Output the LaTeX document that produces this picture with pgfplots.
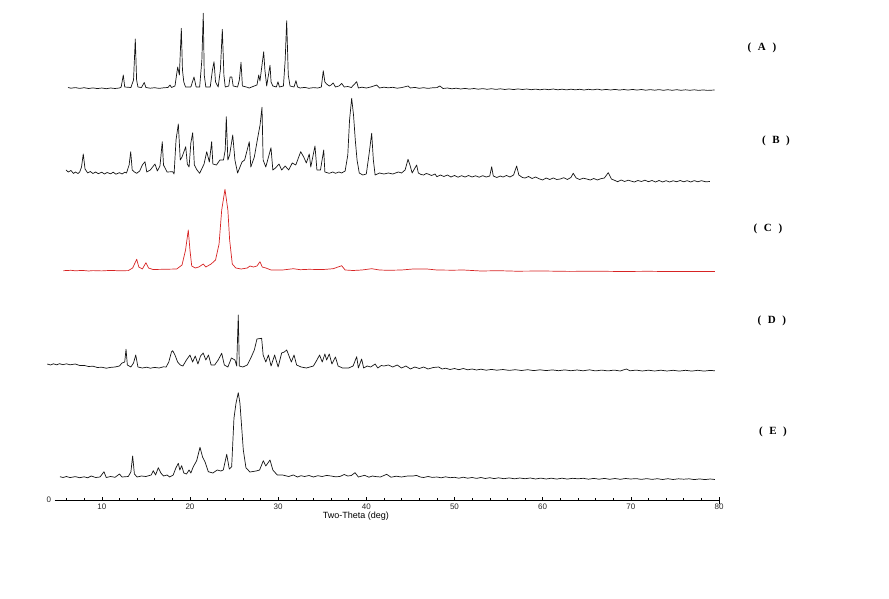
\documentclass[border=0pt]{standalone}
\usepackage{pgfplots}
\pgfplotsset{compat=1.18}
\usepackage{fontspec}
\setmainfont{Liberation Sans}
\newfontfamily\serifb{Liberation Serif}
\definecolor{xrdred}{RGB}{215,35,35}
\definecolor{xrdblack}{RGB}{20,20,20}
\begin{document}
\begin{tikzpicture}
\path[use as bounding box] (0,0) rectangle (889pt,598pt);
\begin{axis}[
  at={(57.7pt,98pt)}, anchor=south west,
  scale only axis, width=661.3pt, height=500pt,
  xmin=5, xmax=80, ymin=0, ymax=500,
  clip=false,
  axis x line*=bottom, axis y line*=left,
  y axis line style={draw=none},
  xtick={10,20,...,80},
  minor xtick={6,8,12,14,16,18,22,24,26,28,32,34,36,38,42,44,46,48,52,54,56,58,62,64,66,68,72,74,76,78},
  ytick=\empty,
  extra y ticks={0}, extra y tick labels={0},
  extra y tick style={major tick length=6pt, tick align=center},
  tick align=inside,
  major tick length=3pt, minor tick length=2pt,
  extra x ticks={80}, extra x tick labels={},
  extra x tick style={major tick length=7pt, tick align=center},
  tick style={black, line width=0.5pt},
  axis line style={line width=0.6pt},
  /pgf/number format/assume math mode=true,
  tick label style={font=\fontsize{8}{9}\selectfont, black!85},
  xticklabel style={yshift=-0.5pt},
  xlabel={Two-Theta (deg)},
  xlabel style={at={(axis description cs:0.451,0)}, anchor=north, yshift=-8.5pt, font=\fontsize{9}{10}\selectfont},
  every axis plot/.append style={line width=0.7pt, line join=round},
]
% (A)
\addplot[xrdblack] coordinates {
(6.17,412.5) (6.5,411.8) (7,412.4) (7.5,411.6) (8,412.3) (8.5,411.5) (9,412.1) (9.5,411.4) (10,412) (10.5,411.3) (11,412) (11.5,411.5) (12,412) (12.2,413) (12.44,425) (12.6,413) (13.3,412.5) (13.6,420) (13.8,461) (13.95,420) (14.1,413) (14.5,412.5) (14.82,417.5) (15.0,412.5) (15.5,411.8) (16,412.3) (16.5,411.6) (17,412.2) (17.5,412.5) (17.74,415) (17.9,412.5) (18.3,414) (18.61,433) (18.8,425) (19.02,471.7) (19.15,430) (19.3,418) (19.5,413) (20.1,413) (20.46,423) (20.7,413) (21.1,413) (21.35,440) (21.51,486.7) (21.62,425) (21.8,413) (22.3,413) (22.55,430) (22.73,438.3) (22.9,418) (23.2,413) (23.45,430) (23.67,470.7) (23.85,425) (24.0,413) (24.4,414) (24.55,423) (24.75,423) (24.9,414) (25.4,413) (25.6,420) (25.79,437.7) (25.95,414) (26.4,413) (26.73,412) (27.0,413) (27.6,415) (27.8,425) (27.94,419) (28.1,430) (28.36,448.3) (28.5,430) (28.7,414) (29.08,434.7) (29.2,418) (29.4,414) (29.8,413) (29.98,418.3) (30.15,413) (30.6,414) (30.8,440) (30.97,479.3) (31.15,425) (31.35,414) (31.8,413) (32.02,419.3) (32.2,413) (32.5,412) (33,412.6) (33.5,411.7) (34,412.4) (34.5,412) (34.9,413) (35.12,429.3) (35.3,418) (35.5,416) (35.8,414) (36,415) (36.25,417) (36.5,413) (36.9,414) (37.21,416.5) (37.5,413) (37.9,413.5) (38.3,412.5) (38.91,418.3) (39.1,412) (39.5,412.8) (40,412) (40.5,413) (41.18,415) (41.5,412) (42,412.8) (42.5,412.2) (43,412.7) (43.5,411.8) (44,412.4) (44.73,414) (45,412) (45.5,412.6) (46,411.7) (46.5,412.3) (47,411.6) (47.5,412.2) (48,412.4) (48.35,414) (48.7,411.5) (49.2,412) (49.7,411.2) (50.2,411.8) (50.7,411) (51.2,411.6) (51.7,410.9) (52.2,411.5) (52.7,410.8) (53.2,411.4) (53.7,410.7) (54.2,411.3) (54.7,410.6) (55.2,411.2) (55.7,410.5) (56.2,411.1) (56.7,410.4) (57.2,411.1) (57.7,410.5) (58.2,411) (58.7,410.3) (59.2,410.9) (59.7,410.2) (60.2,410.9) (60.7,410.3) (61.2,411) (61.7,410.2) (62.2,410.8) (62.7,410.1) (63.2,410.8) (63.7,410.2) (64.2,410.7) (64.7,410) (65.2,410.7) (65.7,410.1) (66.2,410.9) (66.7,410) (67.2,410.6) (67.7,410) (68.2,410.6) (68.7,409.9) (69.2,410.5) (69.7,409.9) (70.2,410.6) (70.7,409.9) (71.2,410.5) (71.7,409.8) (72.2,410.4) (72.7,409.8) (73.2,410.4) (73.7,409.7) (74.2,410.3) (74.7,409.7) (75.2,410.3) (75.7,409.7) (76.2,410.2) (76.7,409.7) (77.2,410.2) (77.7,409.6) (78.2,410.1) (78.7,409.6) (79.5,410)
};
% (B)
\addplot[xrdblack] coordinates {
(5.94,330) (6.2,328) (6.5,329.5) (6.8,326.5) (7.0,328) (7.3,326.5) (7.5,328) (7.7,333) (7.9,346) (8.1,331) (8.4,327) (8.7,328.5) (9,326.5) (9.3,328) (9.6,326.3) (10,327.8) (10.3,326) (10.6,327.5) (11,326.2) (11.3,327.8) (11.6,325.8) (12,327.3) (12.3,326) (12.6,327.8) (12.8,327) (13.1,335) (13.28,348.3) (13.45,330) (13.7,328) (13.96,326.7) (14.3,329) (14.6,335) (14.9,338.3) (15.1,328) (15.5,330) (16.03,336) (16.3,329) (16.6,334) (16.86,358.3) (17.0,335) (17.4,328) (18.04,328.3) (18.2,326) (18.42,360) (18.68,376) (18.9,340) (19.1,343) (19.52,353.3) (19.7,336) (19.9,333) (20.1,357) (20.31,367.3) (20.5,335) (20.8,330) (21.1,326.7) (21.6,336) (21.9,348.3) (22.2,338) (22.46,358.3) (22.6,336) (23.0,335) (23.4,340) (23.8,340) (24.0,350) (24.12,383.3) (24.3,340) (24.5,345) (24.85,365) (25.1,340) (25.4,327) (25.9,338) (26.2,340) (26.73,358.3) (26.9,333) (27.3,343) (27.7,363) (27.95,375) (28.17,392.7) (28.3,340) (28.6,333) (29.19,352.3) (29.4,330) (29.7,332) (30.1,336) (30.4,330) (30.8,334) (31.2,330) (31.6,337) (32.0,335) (32.56,348.3) (32.9,343) (33.2,337) (33.53,346) (33.7,333) (34.18,354) (34.4,330) (34.8,330) (35.17,350) (35.3,328) (35.8,326.7) (36.2,328) (36.5,326.7) (36.9,328) (37.2,327) (37.6,329) (37.9,345) (38.1,380) (38.34,401.7) (38.55,385) (38.75,360) (38.95,340) (39.2,327) (39.6,325) (40.0,326) (40.3,345) (40.61,366.7) (40.8,340) (41.0,325) (41.5,327) (42,326) (42.5,327) (43,326) (43.63,328) (44.0,327) (44.4,330) (44.73,340.7) (44.95,335) (45.2,327) (45.71,335) (45.9,327) (46.2,325.5) (46.5,325) (46.8,326.5) (47,326) (47.4,324.5) (47.8,326) (48,323.3) (48.4,325) (48.8,323.5) (49.2,325) (49.6,323) (50,324.5) (50.4,322.8) (50.8,324.3) (51.2,323) (51.6,324.5) (52,323) (52.4,324.2) (52.8,322.8) (53.2,324.3) (53.6,323) (54,324) (54.22,333.3) (54.4,324) (54.8,322.5) (55.2,324) (55.5,323) (55.9,324.5) (56.3,323) (56.7,325) (57.05,334) (57.3,325) (57.7,322.5) (58,322) (58.4,323.5) (58.8,321.5) (59.2,323) (59.6,321.2) (60,320) (60.4,322) (60.8,320.5) (61.2,322) (61.6,320.5) (62,321) (62.4,322.3) (62.8,320.5) (63.2,322.5) (63.47,326.7) (63.8,322) (64.2,320.5) (64.6,321.8) (65,321) (65.4,320) (65.8,321.5) (66.2,320) (66.6,321.3) (67.0,322) (67.44,327.3) (67.8,321) (68.2,319.5) (68.5,318.3) (68.9,320) (69.3,318.5) (69.7,319.8) (70,319) (70.4,318) (70.8,319.5) (71.2,318.5) (71.6,319.8) (72,318.3) (72.4,319.5) (72.8,318) (73.2,319.5) (73.6,318) (74,319.3) (74.4,318) (74.8,319.2) (75.2,318.3) (75.6,319.5) (76,318.2) (76.4,319.3) (76.8,318) (77.2,319.4) (77.6,318.2) (78,319.3) (78.5,318.2) (78.97,318.5)
};
% (C)
\addplot[xrdred] coordinates {
(5.64,229.3) (6.5,229.7) (7,229.2) (7.8,229.6) (8.5,229) (9,229.4) (10,229.1) (11,229.6) (12,229.2) (13,229.4) (13.5,232) (13.96,240.7) (14.2,233) (14.6,231) (15.01,237.3) (15.3,232) (15.8,230.5) (17,230.7) (18.5,231) (19.1,235) (19.5,250) (19.81,270) (20.0,250) (20.2,234) (20.6,232) (21.0,233) (21.51,236) (21.8,233) (22.4,236) (22.9,240) (23.3,256) (23.6,290) (23.97,310.7) (24.3,290) (24.5,260) (24.8,236) (25.2,232) (25.8,231) (26.5,232) (26.81,234) (27.2,233) (27.6,234) (27.94,238.3) (28.2,233) (28.6,232) (29.2,230) (30.5,230) (31.72,231.3) (32.5,230.3) (33.5,230.7) (35,230.4) (36.25,231.3) (37.21,234.3) (37.6,230) (38.5,229.5) (39.5,230) (40.61,231.3) (41.5,230) (42.5,229.7) (44,230) (45.3,231) (46.88,231) (48,230) (49.8,229.8) (51,230) (53,229) (55,229.3) (57,228.8) (60,229) (63,228.6) (66,228.8) (69,228.5) (72,228.7) (75,228.4) (78,228.6) (79.54,228.5)
};
% (D)
\addplot[xrdblack] coordinates {
(3.82,136) (4.2,135) (4.5,136.2) (4.9,135.2) (5.2,136.3) (5.6,135.3) (6,136.2) (6.4,135.2) (7,136) (7.5,134.5) (8,134.6) (8.5,133.5) (9,133.8) (9.5,132.5) (10,132.8) (10.5,131.8) (11,132.6) (11.5,133) (12.0,134) (12.3,137) (12.6,138) (12.75,150.7) (12.9,135) (13.3,133) (13.6,137) (13.85,145) (14.1,133) (14.6,132) (15.1,132.8) (15.5,131.8) (16,132.6) (16.5,132) (17.0,133.2) (17.3,133) (17.6,138) (17.9,148) (18.04,149.3) (18.3,145) (18.6,138) (18.9,135) (19.2,134) (19.6,140) (20.0,145) (20.3,138) (20.6,144) (20.9,136) (21.2,144) (21.5,147) (21.8,140) (22.1,145) (22.4,135) (22.8,135) (23.2,140) (23.6,146.7) (23.9,135) (24.3,133) (24.7,142) (25.1,140) (25.3,134) (25.48,185) (25.6,134) (26.0,133) (26.5,135) (26.9,142) (27.3,150) (27.6,161) (28.13,161.7) (28.3,145) (28.6,138) (28.9,145) (29.2,134) (29.6,145) (30.0,133) (30.4,147) (30.7,148) (30.97,150) (31.15,146) (31.5,138) (31.8,145) (32.1,135) (32.6,133) (33.2,132) (34.0,134) (34.4,140) (34.7,145) (35.0,138) (35.3,146) (35.5,140) (35.8,146) (36.1,136) (36.5,143) (36.8,134) (37.3,132) (38.0,132) (38.5,134) (38.91,143.3) (39.1,132) (39.47,141) (39.7,132) (40.1,134) (40.5,133) (41.0,136) (41.3,132) (41.7,134.5) (42,134) (42.5,135) (43,133) (43.5,135) (44,132) (44.5,134) (45,131) (45.5,133) (46,131.5) (46.5,133) (47,131) (47.6,132.5) (48.2,133) (48.6,131) (49,131.8) (49.5,130.5) (50,131.5) (50.5,130.3) (51,131.5) (51.5,130.2) (52,131) (52.5,130) (53,130.8) (53.6,129.8) (54.2,130.6) (54.8,129.8) (55.5,130.5) (56.2,129.6) (56.9,130.3) (57.6,129.5) (58.3,130.3) (59,129.4) (59.7,130.2) (60.4,129.4) (61.1,130.1) (61.8,129.3) (62.5,130.1) (63.2,129.3) (63.9,130) (64.6,129.2) (65.3,130.2) (66,129.1) (66.7,129.9) (67.4,129.1) (68.1,129.9) (68.8,129) (69.5,131) (69.9,129.2) (70.6,129.9) (71.3,129) (72,129.8) (72.7,129) (73.4,129.8) (74.1,129) (74.8,129.7) (75.5,128.9) (76.2,129.7) (76.9,128.9) (77.6,129.7) (78.3,128.9) (79,129.6) (79.54,129.2)
};
% (E)
\addplot[xrdblack] coordinates {
(5.26,23.3) (5.6,22.5) (6,23.5) (6.4,22.4) (7,23.4) (7.5,22.3) (8,23.2) (8.4,22.2) (8.8,24) (9.3,22.5) (9.8,23) (10.25,28.3) (10.5,22.5) (11,23.5) (11.5,22.7) (12.0,26) (12.3,23) (13.0,23.5) (13.3,28) (13.5,44) (13.7,26) (14,23) (14.5,24) (15,23.5) (15.6,25) (15.84,29.3) (16.1,25) (16.41,32.3) (16.7,27) (17.0,24) (17.4,25) (17.7,23) (18.1,25) (18.4,32) (18.68,36.7) (18.85,30) (19.06,34.3) (19.3,27) (19.6,26) (19.9,30) (20.1,27) (20.38,33.3) (20.76,39.3) (21.14,52.7) (21.44,42.7) (21.7,38.3) (22.08,28.3) (22.6,27) (23.1,30) (23.5,29) (23.78,30) (24.17,45.7) (24.46,31) (24.73,33.3) (24.99,81.7) (25.22,96.7) (25.48,107.3) (25.67,96.7) (26.05,50) (26.35,32.3) (26.8,28) (27.5,29) (27.9,30) (28.32,39.3) (28.6,34) (29.08,40) (29.4,30) (29.9,25) (30.5,25) (31.2,23.5) (31.72,25) (32.2,23) (32.6,24.3) (33,23.5) (33.5,24.5) (34,23) (34.5,24.3) (35,23.5) (35.5,24.6) (36,24) (36.5,23.2) (37,23.5) (37.5,25.5) (37.9,24) (38.3,24.5) (38.72,27.3) (39.1,23) (39.8,24.7) (40.3,22.8) (40.7,24) (41,23.5) (41.6,23) (42.31,25.7) (42.8,22.8) (43.4,23.8) (44,23) (44.6,23.9) (45.3,24) (45.71,24.6) (46.1,23) (46.5,22.5) (47,23.5) (47.5,22.6) (48,23) (48.5,22.2) (49,23.2) (49.5,22.3) (50,22.7) (50.5,21.8) (51,22.8) (51.5,21.8) (52,22.5) (52.5,21.6) (53,22.5) (53.5,21.5) (54,22.3) (54.5,21.4) (55,22.2) (55.6,21.3) (56.2,22.1) (56.8,21.2) (57.4,22) (58,21.3) (58.6,22) (59.2,21) (59.8,21.9) (60.4,21) (61,21.8) (61.6,20.9) (62.2,21.8) (62.8,20.9) (63.4,21.7) (64,21.2) (64.6,21.7) (65.2,20.8) (65.8,21.6) (66.4,20.8) (67,21.6) (67.6,20.7) (68.2,21.5) (68.8,20.7) (69.4,21.5) (70,21) (70.6,21.4) (71.2,20.6) (71.8,21.4) (72.4,20.6) (73,21.3) (73.6,20.5) (74.2,21.3) (74.8,20.5) (75.4,21.2) (76,20.8) (76.6,21.2) (77.2,20.4) (77.8,21.1) (78.4,20.4) (79,21) (79.54,20.5)
};
\node[font=\serifb\bfseries\fontsize{11}{12}\selectfont] at (axis cs:84.87,452) {(\hspace{0.6em}A\hspace{0.6em})};
\node[font=\serifb\bfseries\fontsize{11}{12}\selectfont] at (axis cs:86.46,359) {(\hspace{0.6em}B\hspace{0.6em})};
\node[font=\serifb\bfseries\fontsize{11}{12}\selectfont] at (axis cs:85.55,271) {(\hspace{0.6em}C\hspace{0.6em})};
\node[font=\serifb\bfseries\fontsize{11}{12}\selectfont] at (axis cs:86.0,179) {(\hspace{0.6em}D\hspace{0.6em})};
\node[font=\serifb\bfseries\fontsize{11}{12}\selectfont] at (axis cs:86.12,68) {(\hspace{0.6em}E\hspace{0.6em})};
\end{axis}
\end{tikzpicture}
\end{document}
